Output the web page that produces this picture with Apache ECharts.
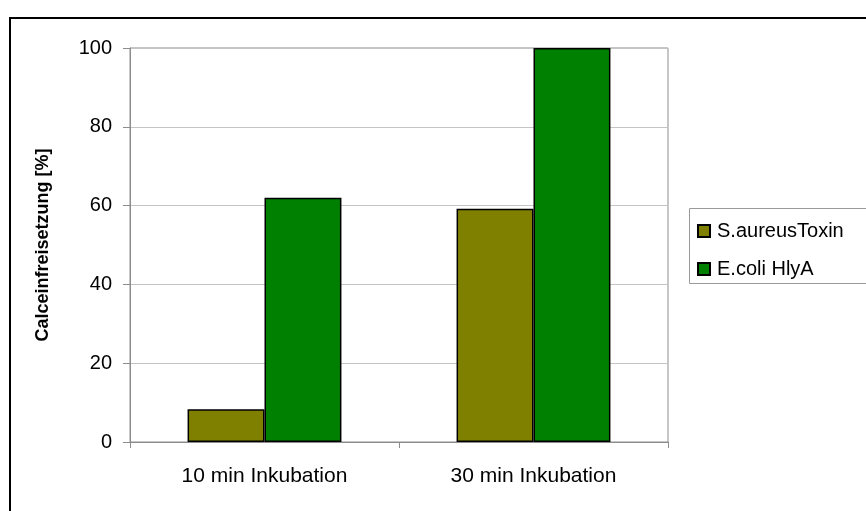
<!DOCTYPE html>
<html>
<head>
<meta charset="utf-8">
<script src="https://cdn.jsdelivr.net/npm/echarts@6/dist/echarts.min.js"></script>
<style>
  html, body { margin: 0; padding: 0; background: #fff; }
  #chart { width: 866px; height: 511px; }
</style>
</head>
<body>
<div id="chart"></div>
<script>
// Calcein release after incubation with two pore-forming toxins
const categories = ['10 min Inkubation', '30 min Inkubation'];
const seriesNames = ['S.aureusToxin', 'E.coli HlyA'];
const aureusValues = [8.3, 59.2];
const coliValues = [62, 100];
const yTicks = [0, 20, 40, 60, 80, 100];

const FONT = '"Liberation Sans", Arial, sans-serif';
const chart = echarts.init(document.getElementById('chart'), null, { renderer: 'canvas' });

chart.setOption({
  backgroundColor: '#ffffff',
  animation: false,
  graphic: [
    // outer chart frame
    { type: 'rect', shape: { x: 10, y: 18, width: 870, height: 510 },
      style: { fill: 'none', stroke: '#000', lineWidth: 2 }, z: 0 },
    // legend box
    { type: 'rect', shape: { x: 689.5, y: 208.5, width: 200, height: 75 },
      style: { fill: '#fff', stroke: '#9a9a9a', lineWidth: 1 }, z: 1 }
  ],
  grid: {
    left: 130, top: 48, right: 198, bottom: 69,
    show: true, borderColor: '#8c8c8c', borderWidth: 1, backgroundColor: 'transparent'
  },
  legend: {
    orient: 'vertical',
    left: 692, top: 216,
    itemWidth: 12, itemHeight: 12, itemGap: 18,
    icon: 'rect',
    data: seriesNames,
    textStyle: { fontFamily: FONT, fontSize: 20, color: '#000', padding: [0, 0, 0, 2] },
    z: 5
  },
  xAxis: {
    type: 'category',
    data: categories,
    axisLine: { show: true, lineStyle: { color: '#8c8c8c', width: 1 } },
    axisTick: { show: true, length: 6, alignWithLabel: false, lineStyle: { color: '#8c8c8c' } },
    axisLabel: { fontFamily: FONT, fontSize: 21, color: '#000', margin: 24 },
    splitLine: { show: false }
  },
  yAxis: {
    type: 'value',
    min: 0, max: 100, interval: 20,
    name: 'Calceinfreisetzung [%]',
    nameLocation: 'middle',
    nameGap: 78,
    nameTextStyle: { fontFamily: FONT, fontSize: 18, fontWeight: 'bold', color: '#000' },
    axisLine: { show: true, lineStyle: { color: '#8c8c8c', width: 1 } },
    axisTick: { show: true, length: 7, lineStyle: { color: '#8c8c8c' } },
    axisLabel: {
      fontFamily: FONT, fontSize: 20, color: '#000', margin: 18,
      formatter: v => yTicks.includes(v) ? String(v) : ''
    },
    splitLine: { show: true, lineStyle: { color: '#c4c4c4', width: 1 } }
  },
  series: [
    {
      name: seriesNames[0], type: 'bar', data: aureusValues,
      barGap: '0%', barCategoryGap: '42.8%',
      itemStyle: { color: '#808000', borderColor: '#000', borderWidth: 1.5 }
    },
    {
      name: seriesNames[1], type: 'bar', data: coliValues,
      barGap: '0%', barCategoryGap: '42.8%',
      itemStyle: { color: '#008000', borderColor: '#000', borderWidth: 1.5 }
    }
  ]
});
</script>
</body>
</html>
